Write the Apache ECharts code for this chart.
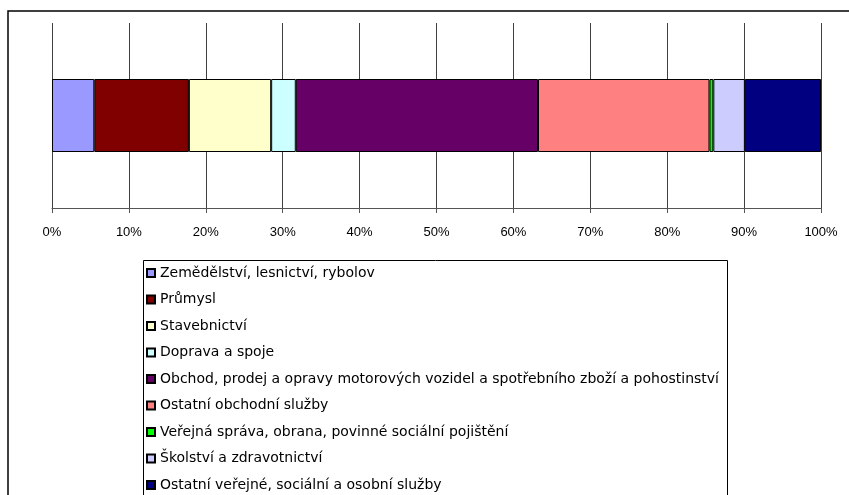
<!DOCTYPE html>
<html>
<head>
<meta charset="utf-8">
<script src="https://cdn.jsdelivr.net/npm/echarts@6/dist/echarts.min.js"></script>
<style>
html,body{margin:0;padding:0;background:#fff;}
#chart{width:849px;height:495px;}
</style>
</head>
<body>
<div id="chart"></div>
<script>
const categories = ['Zemědělství, lesnictví, rybolov','Průmysl','Stavebnictví','Doprava a spoje','Obchod, prodej a opravy motorových vozidel a spotřebního zboží a pohostinství','Ostatní obchodní služby','Veřejná správa, obrana, povinné sociální pojištění','Školství a zdravotnictví','Ostatní veřejné, sociální a osobní služby'];
const values = [5.5, 12.3, 10.7, 3.2, 31.5, 22.3, 0.5, 4.1, 9.9];
const colors = ['#9999FF','#800000','#FFFFCC','#CCFFFF','#660066','#FF8080','#00FF00','#CCCCFF','#000080'];
const tickLabels = ['0%','10%','20%','30%','40%','50%','60%','70%','80%','90%','100%'];

const chart = echarts.init(document.getElementById('chart'), null, {renderer:'canvas'});
const font = 'Liberation Sans, Arial, sans-serif';
const legendFont = 'DejaVu Sans, sans-serif';
const series = categories.map((name, i) => ({
  name: name,
  type: 'bar',
  stack: 'total',
  barWidth: 73,
  data: [values[i]],
  itemStyle: {color: colors[i], borderColor: '#000', borderWidth: 1},
  emphasis: {disabled: true},
  animation: false
}));
chart.setOption({
  animation: false,
  backgroundColor: '#fff',
  textStyle: {fontFamily: font},
  grid: {left: 52, right: 28, top: 23, bottom: 287, containLabel: false},
  xAxis: {
    type: 'value', min: 0, max: 100, interval: 10,
    axisLine: {show: true, lineStyle: {color: '#555', width: 1}},
    axisTick: {show: true, length: 5, lineStyle: {color: '#555'}},
    splitLine: {show: true, lineStyle: {color: '#404040', width: 1}},
    axisLabel: {margin: 18, color: '#000', fontSize: 13, fontFamily: font,
      formatter: (v) => tickLabels[Math.round(v / 10)]}
  },
  yAxis: {
    type: 'category', data: [''],
    axisLine: {show: false}, axisTick: {show: false}, axisLabel: {show: false}
  },
  legend: {
    type: 'plain',
    orient: 'vertical', left: 143, top: 260, height: 400,
    padding: [6, 4, 5, 3],
    itemWidth: 8, itemHeight: 8, itemGap: 12.5,
    selectedMode: false,
    textStyle: {fontSize: 14, color: '#000', fontFamily: legendFont, lineHeight: 14},
    data: categories.map(n => ({name: n, icon: 'rect'}))
  },
  graphic: [
    {type: 'rect', shape: {x: 8, y: 11, width: 900, height: 600}, style: {fill: 'none', stroke: '#000', lineWidth: 1.5}, silent: true, z: 100},
    {type: 'rect', shape: {x: 143.5, y: 260.5, width: 584, height: 260}, style: {fill: 'none', stroke: '#000', lineWidth: 1}, silent: true, z: 100}
  ],
  series: series
});
</script>
</body>
</html>
